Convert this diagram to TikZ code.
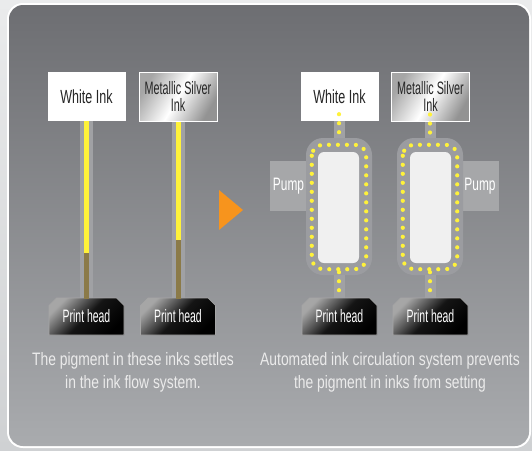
\documentclass[tikz,border=0pt]{standalone}
\usepackage{fontspec}
\setmainfont{Liberation Sans}
\newfontfamily\narrowfont[FakeStretch=0.66]{Liberation Sans}
\newfontfamily\silverfont[FakeStretch=0.6]{Liberation Sans}
\newfontfamily\headfont[FakeStretch=0.58]{Liberation Sans}
\newfontfamily\notefont[FakeStretch=0.77]{Liberation Sans}
\usetikzlibrary{shapes.misc}

\definecolor{frameTop}{HTML}{EAEBEC}
\definecolor{frameBottom}{HTML}{CFD1D3}
\definecolor{panelTop}{HTML}{6D6E72}
\definecolor{panelBottom}{HTML}{A9ABAE}
\definecolor{pipeGray}{HTML}{A0A1A4}
\definecolor{loopGray}{HTML}{9B9CA0}
\definecolor{pumpGray}{HTML}{A6A7A9}
\definecolor{inkYellow}{HTML}{FFF23A}
\definecolor{sediment}{HTML}{8B7A48}
\definecolor{arrowOrange}{HTML}{F7941D}

\tikzset{
	inkbox/.style={rectangle, minimum width=78pt, minimum height=49pt, inner sep=0pt,
		align=center, text=black!85, font=\narrowfont\fontsize{19}{17}\selectfont},
	whitebox/.style={inkbox, fill=white},
	silverbox/.style={inkbox, draw=white, line width=1pt, font=\silverfont\fontsize{18}{17}\selectfont,
		left color=gray!70, right color=gray!85, middle color=white, shading angle=60},
	headbox/.style={chamfered rectangle, chamfered rectangle corners={north west,north east},
		chamfered rectangle xsep=4pt, minimum width=75pt, minimum height=37pt, inner sep=0pt,
		draw=gray!70, line width=0.6pt, top color=black!35, bottom color=black, middle color=black!92,
		shading angle=45, text=white, font=\headfont\fontsize{18}{18}\selectfont},
	pumpbox/.style={rectangle, fill=pumpGray, minimum width=37pt, minimum height=50pt, inner sep=0pt,
		text=white, font=\narrowfont\fontsize{18}{18}\selectfont},
	loopbox/.style={rectangle, fill=loopGray, rounded corners=17pt, minimum width=66pt, minimum height=137pt},
	tankbox/.style={rectangle, fill=white!94!black, rounded corners=6pt, minimum width=41pt, minimum height=111pt},
	pipe/.style={pipeGray, line width=13pt},
	thinpipe/.style={pipeGray, line width=11pt},
	inkflow/.style={inkYellow, line width=5pt},
	settled/.style={sediment, line width=5pt},
	dotline/.style={inkYellow, line width=4.2pt, line cap=round, dash pattern=on 0pt off 9pt},
	note/.style={align=center, text=white!92!black, font=\notefont\fontsize{18}{23}\selectfont}
}

\begin{document}
\begin{tikzpicture}[x=1pt,y=-1pt]
			%\draw[help lines] (0,0) grid (532,450);
			\useasboundingbox (0,0) rectangle (532,450);
			\shade[top color=frameTop, bottom color=frameBottom] (0,0) rectangle (532,450);
			\fill[white, rounded corners=16pt] (7,3) rectangle (531,448);
			\shade[top color=panelTop, bottom color=panelBottom, rounded corners=14pt] (9,5) rectangle (529,446);
			
			% settling system
			\node[whitebox]  (whiteA)  at (86.5,96.5) {White Ink};
			\node[silverbox] (silverA) at (178,96.5)  {Metallic Silver\\Ink};
			\node[headbox]   (headA)   at (86.5,316.5) {Print head};
			\node[headbox]   (headB)   at (178,316.5)  {Print head};
			
			\coordinate (settleA) at (86.5,253);
			\coordinate (settleB) at (178,240);
			
			\draw[pipe] (whiteA.south) -- (headA.north);
			\draw[pipe] (silverA.south) -- (headB.north);
			\draw[inkflow] (whiteA.south) -- (settleA);
			\draw[settled] (settleA) -- ([yshift=-1]headA.north);
			\draw[inkflow] (silverA.south) -- (settleB);
			\draw[settled] (settleB) -- ([yshift=-1]headB.north);
			
			\fill[arrowOrange] (219,190) -- (243,210) -- (219,230) -- cycle;
			
			% circulation system
			\node[pumpbox]  (pumpA)   at (288.5,186) {Pump};
			\node[pumpbox]  (pumpB)   at (480,186)   {Pump};
			\node[loopbox]  (loopA)   at (339,206.5) {};
			\node[loopbox]  (loopB)   at (430,206.5) {};
			\node[tankbox]  (tankA)   at (338.5,207.5) {};
			\node[tankbox]  (tankB)   at (430.5,207.5) {};
			
			\node[whitebox]  (whiteB)  at (339.5,96.5) {White Ink};
			\node[silverbox] (silverB) at (430.5,96.5) {Metallic Silver\\Ink};
			\node[headbox]   (headC)   at (339.5,316.5) {Print head};
			\node[headbox]   (headD)   at (430.5,316.5) {Print head};
			
			\draw[thinpipe] (whiteB.south -| loopA) -- (loopA.north);
			\draw[thinpipe] (loopA.south) -- (headC.north -| loopA);
			\draw[thinpipe] (silverB.south -| loopB) -- (loopB.north);
			\draw[thinpipe] (loopB.south) -- (headD.north -| loopB);
			
			\draw[dotline] ([yshift=7]whiteB.south -| loopA) -- (loopA.north);
			\draw[dotline] ([yshift=3]loopA.south) -- (headC.north -| loopA);
			\draw[dotline] ([yshift=7]silverB.south -| loopB) -- (loopB.north);
			\draw[dotline] ([yshift=3]loopB.south) -- (headD.north -| loopB);
			\draw[dotline, rounded corners=11pt] ([shift={(6,7)}]loopA.north west) rectangle ([shift={(-6,-6)}]loopA.south east);
			\draw[dotline, rounded corners=11pt] ([shift={(6,7)}]loopB.north west) rectangle ([shift={(-6,-6)}]loopB.south east);
			
			% captions
			\node[note] (noteA) at (133,372) {The pigment in these inks settles\\in the ink flow system.};
			\node[note] (noteB) at (390,372) {Automated ink circulation system prevents\\the pigment in inks from setting};
\end{tikzpicture}
\end{document}
